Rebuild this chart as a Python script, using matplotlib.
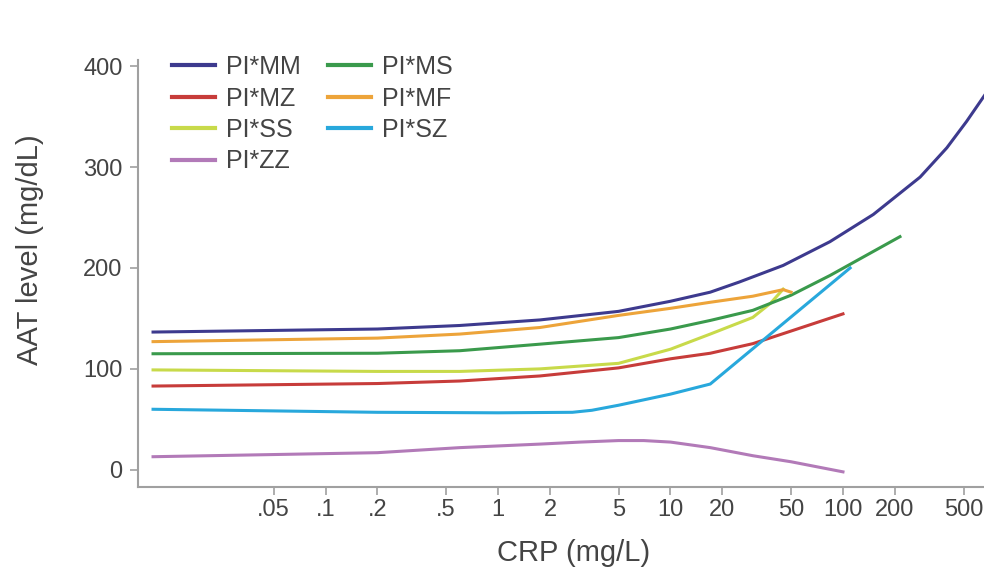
import matplotlib
matplotlib.use("Agg")
from matplotlib import pyplot as plt

# CRP (mg/L) vs AAT level (mg/dL)
crp_mm = [0.01, 0.2, 0.6, 1.75, 5, 10, 17, 25, 45, 84, 150, 280, 400, 520, 700]
aat_mm = [136.5, 139.5, 143, 148.5, 157, 167, 176, 186, 202.5, 226, 253, 290, 319, 345, 377]

crp_mz = [0.01, 0.2, 0.6, 1.75, 5, 10, 17, 30, 50, 100]
aat_mz = [83, 85.5, 88, 93, 101, 110, 115.5, 125, 137.5, 154.5]

crp_ss = [0.01, 0.2, 0.6, 1.75, 5, 10, 17, 30, 38, 45]
aat_ss = [99, 97.5, 97.5, 100, 105.5, 119.5, 134.5, 151, 165, 179]

crp_zz = [0.01, 0.2, 0.6, 1.75, 3, 5, 7, 10, 17, 30, 50, 100]
aat_zz = [13, 17, 22, 25.5, 27.5, 29, 29, 27.5, 22, 14, 8, -2]

crp_ms = [0.01, 0.2, 0.6, 1.75, 5, 10, 17, 30, 50, 84, 214]
aat_ms = [115, 115.5, 118, 124.5, 131, 139.5, 148, 158, 173, 192.5, 231]

crp_mf = [0.01, 0.2, 0.6, 1.75, 5, 10, 17, 30, 45, 50]
aat_mf = [127, 130.5, 134.5, 141, 153, 160, 166, 172, 178.5, 176]

crp_sz = [0.01, 0.2, 1, 2.7, 3.5, 5, 10, 17, 110]
aat_sz = [60, 57, 56.5, 57, 59, 64, 75, 85, 200]

xticks = [0.05, 0.1, 0.2, 0.5, 1, 2, 5, 10, 20, 50, 100, 200, 500]
xticklabels = ['.05', '.1', '.2', '.5', '1', '2', '5', '10', '20', '50', '100', '200', '500']
yticks = [0, 100, 200, 300, 400]

plt.rcParams['font.family'] = ['Liberation Sans', 'DejaVu Sans']

fig = plt.figure(figsize=(9.84, 5.71), dpi=100)
ax = fig.add_axes([138 / 984, (571 - 487) / 571, 1 - 138 / 984, (487 - 60) / 571])

lw = 2.2
# legend order is column-wise: MM, MZ, SS, ZZ | MS, MF, SZ
ax.plot(crp_mm, aat_mm, color='#3d3a8e', lw=lw, label='PI*MM')
ax.plot(crp_mz, aat_mz, color='#c73c3a', lw=lw, label='PI*MZ')
ax.plot(crp_ss, aat_ss, color='#c8da4a', lw=lw, label='PI*SS')
ax.plot(crp_zz, aat_zz, color='#b27ab8', lw=lw, label='PI*ZZ')
ax.plot(crp_ms, aat_ms, color='#3a9a4c', lw=lw, label='PI*MS')
ax.plot(crp_mf, aat_mf, color='#eda43a', lw=lw, label='PI*MF')
ax.plot(crp_sz, aat_sz, color='#28a8dc', lw=lw, label='PI*SZ')

ax.set_xscale('log')
ax.set_xlim(0.00818, 657)
ax.set_ylim(-17, 406)
ax.set_xticks(xticks)
ax.set_xticklabels(xticklabels)
ax.minorticks_off()
ax.set_yticks(yticks)

for s in ['top', 'right']:
    ax.spines[s].set_visible(False)
for s in ['left', 'bottom']:
    ax.spines[s].set_color('#a0a0a0')
    ax.spines[s].set_linewidth(1.5)

ax.tick_params(axis='both', colors='#a0a0a0', labelcolor='#444444', labelsize=17,
               length=6, width=1.2)
ax.tick_params(axis='y', pad=5)
ax.tick_params(axis='x', pad=3)

leg = ax.legend(ncol=2, frameon=False, fontsize=18, loc='upper left',
                bbox_to_anchor=(172 / 984, 1 - 55 / 571), bbox_transform=fig.transFigure,
                borderpad=0, borderaxespad=0, handlelength=1.7, handletextpad=0.45,
                columnspacing=1.1, labelspacing=0.3)
for t in leg.get_texts():
    t.set_color('#444444')
for h in leg.get_lines():
    h.set_linewidth(3)

fig.text(30 / 984, 1 - 250 / 571, 'AAT level (mg/dL)', rotation=90, ha='center', va='center',
         fontsize=21, color='#444444')
fig.text(574 / 984, 1 - 553 / 571, 'CRP (mg/L)', ha='center', va='center',
         fontsize=21, color='#444444')

fig.savefig('out.png', dpi=100)
